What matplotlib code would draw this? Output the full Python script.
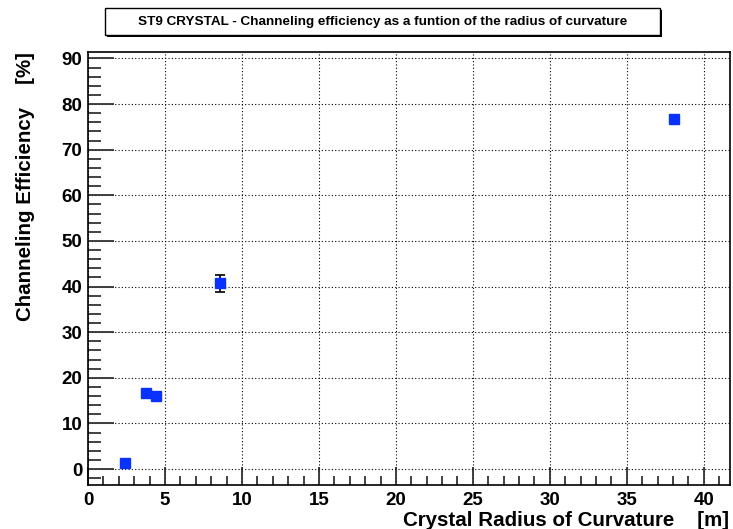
#! /usr/bin/env python3
# Channeling efficiency of the ST9 crystal vs. radius of curvature
import matplotlib
matplotlib.use("Agg")
import matplotlib.pyplot as plt
from matplotlib.patches import Rectangle
from matplotlib.ticker import MultipleLocator

plt.rcParams['font.family'] = ['Liberation Sans', 'DejaVu Sans']

# measured points
radius = [2.4, 3.75, 4.4, 8.6, 38.05]
efficiency = [1.3, 16.6, 15.9, 40.7, 76.8]
eff_err = [0.0, 0.0, 0.0, 1.9, 0.0]

title = "ST9 CRYSTAL - Channeling efficiency as a funtion of the radius of curvature"
xlabel = "Crystal Radius of Curvature    [m]"
ylabel = "Channeling Efficiency    [%]"

W, H = 733, 529
fig = plt.figure(figsize=(W / 100, H / 100), dpi=100)

# frame of the pad in pixel units
x0, x1, y0, y1 = 88, 730, 52, 485
ax = fig.add_axes([x0 / W, 1 - y1 / H, (x1 - x0) / W, (y1 - y0) / H])

ax.errorbar(radius, efficiency, yerr=eff_err, fmt='s', color='#0a32ff',
            markersize=7.2, ecolor='black', elinewidth=1.2, capsize=3.5,
            capthick=1.2, zorder=3)

ax.set_xlim(0, 41.7)
ax.set_ylim(-3.5, 91.4)
ax.xaxis.set_major_locator(MultipleLocator(5))
ax.xaxis.set_minor_locator(MultipleLocator(1))
ax.yaxis.set_major_locator(MultipleLocator(10))
ax.yaxis.set_minor_locator(MultipleLocator(2))

ax.grid(True, which='major', linestyle=(0, (1, 2)), color='black',
        linewidth=0.8)
ax.set_axisbelow(True)

ax.tick_params(axis='x', which='major', direction='in', length=13, width=1.3,
               color='#333333', labelsize=13.5, pad=5)
ax.tick_params(axis='x', which='minor', direction='in', length=6.5, width=1.3,
               color='#333333')
ax.tick_params(axis='y', which='major', direction='in', length=19, width=1.3,
               color='#333333', labelsize=13.5, pad=4)
ax.tick_params(axis='y', which='minor', direction='in', length=9.5, width=1.3,
               color='#333333')
for lab in ax.get_xticklabels() + ax.get_yticklabels():
    lab.set_fontweight('bold')

for sp in ax.spines.values():
    sp.set_linewidth(1.2)

# axis titles pushed to the ends of the axes
fig.text(729 / W, 1 - 520 / H, xlabel, ha='right', va='center',
         fontsize=14.8, fontweight='bold')
fig.text(26 / W, 1 - 52 / H, ylabel, ha='center', va='top', rotation=90,
         fontsize=14.8, fontweight='bold')

# title box with a drop shadow
bx0, bx1, by0, by1 = 105, 660, 8, 35
fig.patches.append(Rectangle((bx0 / W + 2 / W, 1 - (by1 + 2) / H),
                             (bx1 - bx0) / W, (by1 - by0) / H,
                             transform=fig.transFigure, facecolor='black',
                             edgecolor='none', zorder=1))
fig.patches.append(Rectangle((bx0 / W, 1 - by1 / H),
                             (bx1 - bx0) / W, (by1 - by0) / H,
                             transform=fig.transFigure, facecolor='white',
                             edgecolor='black', linewidth=1.0, zorder=2))
fig.text((bx0 + bx1) / 2 / W, 1 - (by0 + by1) / 2 / H, title, ha='center',
         va='center', fontsize=9.7, fontweight='bold', zorder=3)

fig.savefig("out.png", dpi=100)
